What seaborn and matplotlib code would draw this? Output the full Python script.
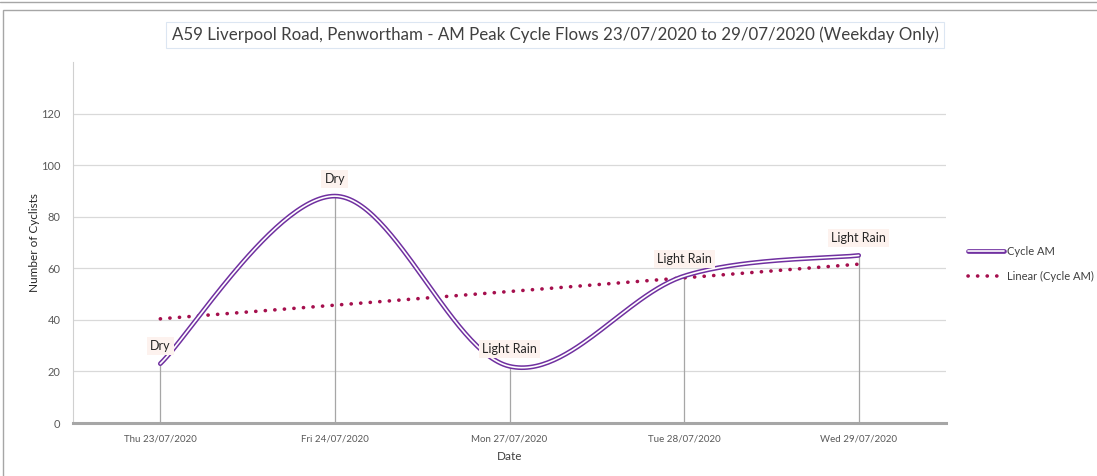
import numpy as np
import pandas as pd
import matplotlib
matplotlib.use("Agg")
import matplotlib.pyplot as plt
from matplotlib.lines import Line2D
from matplotlib.legend_handler import HandlerTuple
from matplotlib.patches import Rectangle
import seaborn as sns

# ---- data ----
dates = ["Thu 23/07/2020", "Fri 24/07/2020", "Mon 27/07/2020", "Tue 28/07/2020", "Wed 29/07/2020"]
cycle_am = [23, 88, 22, 57, 65]
weather = ["Dry", "Dry", "Light Rain", "Light Rain", "Light Rain"]
y_ticks = [0, 20, 40, 60, 80, 100, 120]

title = "A59 Liverpool Road, Penwortham - AM Peak Cycle Flows 23/07/2020 to 29/07/2020 (Weekday Only)"

sns.set_theme(style="white")
plt.rcParams["font.family"] = ["Lato", "DejaVu Sans"]

PURPLE = "#7030A0"
TREND = "#A50F4D"
GRID = "#D9D9D9"
TXT = "#595959"

fig = plt.figure(figsize=(10.97, 4.76), dpi=100)
ax = fig.add_axes([73 / 1097, 1 - 423 / 476, (946 - 73) / 1097, (423 - 62) / 476])

x = np.arange(len(dates), dtype=float)
y = np.array(cycle_am, dtype=float)

# Excel-style smoothed line (Catmull-Rom Bezier through the data points)
P = np.column_stack([x, y])
Pext = np.vstack([P[0], P, P[-1]])
curve = []
t = np.linspace(0, 1, 60)[:, None]
for i in range(len(P) - 1):
    p0 = Pext[i + 1]
    p3 = Pext[i + 2]
    c1 = p0 + (Pext[i + 2] - Pext[i]) / 6.0
    c2 = p3 - (Pext[i + 3] - Pext[i + 1]) / 6.0
    seg = ((1 - t) ** 3) * p0 + 3 * ((1 - t) ** 2) * t * c1 + 3 * (1 - t) * t ** 2 * c2 + t ** 3 * p3
    curve.append(seg if i == 0 else seg[1:])
curve = np.vstack(curve)
smooth_df = pd.DataFrame({"x": curve[:, 0], "y": curve[:, 1]})

# grid
ax.set_ylim(0, 140)
ax.set_xlim(-0.5, len(dates) - 0.5)
ax.set_yticks(y_ticks)
ax.yaxis.grid(True, color=GRID, lw=0.9)
ax.set_axisbelow(True)

# drop lines
ax.vlines(x, 0, y, color="#A6A6A6", lw=0.9, zorder=1)

# smoothed double line
sns.lineplot(data=smooth_df, x="x", y="y", ax=ax, color=PURPLE, lw=3.4,
             sort=False, estimator=None, zorder=3, solid_capstyle="round")
sns.lineplot(data=smooth_df, x="x", y="y", ax=ax, color="white", lw=1.2,
             sort=False, estimator=None, zorder=4, solid_capstyle="round")

# linear trend
df = pd.DataFrame({"x": x, "y": y})
sns.regplot(data=df, x="x", y="y", ax=ax, scatter=False, ci=None, truncate=True,
            line_kws=dict(color=TREND, lw=2.6, linestyle=(0, (0.05, 2.6)),
                          dash_capstyle="round", zorder=2))

# data labels
for xi, yi, lab in zip(x, y, weather):
    ax.annotate(lab, (xi, yi), xytext=(0, 12.5), textcoords="offset points",
                ha="center", va="center", fontsize=9, color="#262626", zorder=6,
                bbox=dict(boxstyle="square,pad=0.25", fc="#FDF2EE", ec="none"))

# axes styling
ax.set_xticks(x)
ax.set_xticklabels(dates)
ax.set_xticks(np.arange(-0.5, len(dates) - 0.4, 1.0), minor=True)
ax.tick_params(axis="x", which="major", length=0, labelsize=7, labelcolor=TXT, pad=8)
ax.tick_params(axis="x", which="minor", length=3, color="#A6A6A6", width=0.8, direction="in")
ax.tick_params(axis="y", length=0, labelsize=8, labelcolor=TXT, pad=9)
for s in ["top", "right"]:
    ax.spines[s].set_visible(False)
ax.spines["left"].set_color("#D0D0D0")
ax.spines["left"].set_linewidth(0.8)
ax.spines["bottom"].set_color("#A6A6A6")
ax.spines["bottom"].set_linewidth(2.2)
ax.set_xlabel("Date", fontsize=8.5, color="#404040", labelpad=6)
ax.set_ylabel("Number of Cyclists", fontsize=8.5, color="#262626", labelpad=1)

# title
fig.text(555 / 1097, 1 - 35 / 476, title, ha="center", va="center", fontsize=12.2,
         color="#404040",
         bbox=dict(boxstyle="square,pad=0.3", fc="white", ec="#DCE6F2", lw=0.8))

# legend
h1 = (Line2D([], [], color=PURPLE, lw=3.4), Line2D([], [], color="white", lw=1.2))
h2 = Line2D([], [], color=TREND, lw=2.6, linestyle=(0, (0.05, 2.6)), dash_capstyle="round")
fig.legend([h1, h2], ["Cycle AM", "Linear (Cycle AM)"],
           handler_map={tuple: HandlerTuple(ndivide=1, pad=0)},
           loc="center left", bbox_to_anchor=(958 / 1097, 1 - 264 / 476),
           frameon=False, fontsize=8, handlelength=3.2, handletextpad=0.3,
           labelspacing=1.2, labelcolor="#404040")

# chart frame
fig.add_artist(Rectangle((3 / 1097, -0.01), 1.1, 1 - 10 / 476 + 0.01, transform=fig.transFigure,
                         fill=False, ec="#A6A6A6", lw=1.0))
fig.add_artist(Line2D([0, 1], [1 - 2 / 476, 1 - 2 / 476], transform=fig.transFigure,
                      color="#A6A6A6", lw=1.0))

fig.savefig("out.png", dpi=100)
